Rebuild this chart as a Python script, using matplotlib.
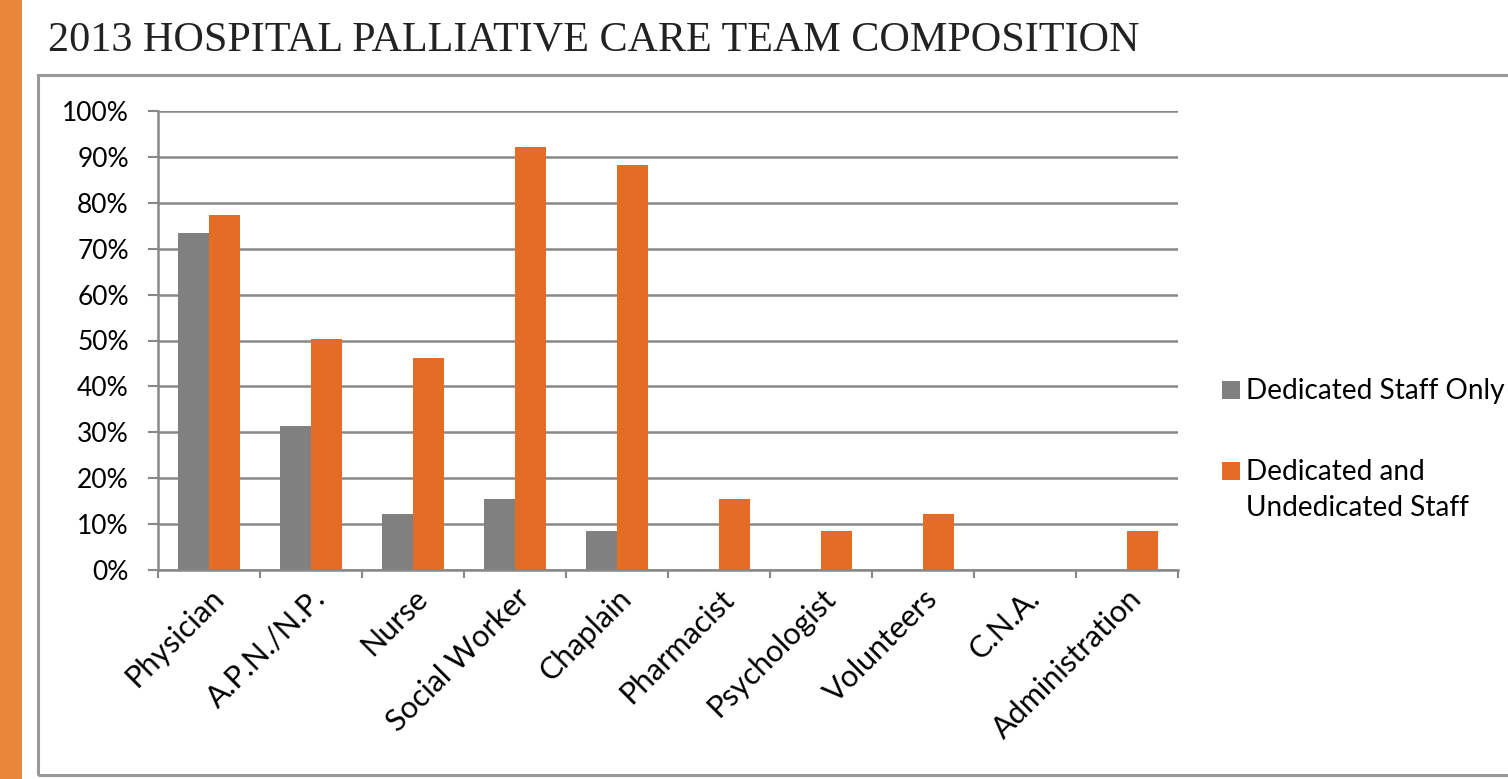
import matplotlib.pyplot as plt
import numpy as np
from matplotlib.patches import Rectangle

categories = ["Physician", "A.P.N./N.P.", "Nurse", "Social Worker", "Chaplain",
              "Pharmacist", "Psychologist", "Volunteers", "C.N.A.", "Administration"]
dedicated_only = [73.4, 31.4, 12.2, 15.5, 8.5, 0, 0, 0, 0, 0]
dedicated_and_undedicated = [77.3, 50.3, 46.2, 92.2, 88.2, 15.5, 8.5, 12.2, 0, 8.5]
series_names = ["Dedicated Staff Only", "Dedicated and\nUndedicated Staff"]
series_colors = ["#808080", "#E46C24"]
yticks = list(range(0, 101, 10))

W, H = 1508, 779
fig = plt.figure(figsize=(W / 100, H / 100), dpi=100)

# orange strip on the left and gray frame round the chart
fig.add_artist(Rectangle((0, 0), 22 / W, 1, transform=fig.transFigure,
                         color="#E8873A", lw=0))
fig.add_artist(Rectangle((38 / W, 1 - 775 / H), 1.2, (775 - 75) / H,
                         transform=fig.transFigure, fill=False,
                         ec="#999999", lw=2.2))

fig.text(48 / W, 1 - 40 / H, "2013 HOSPITAL PALLIATIVE CARE TEAM COMPOSITION",
         family="Liberation Serif", fontsize=30.3, color="#222222", va="center")

ax = fig.add_axes([158 / W, 1 - 570 / H, (1178 - 158) / W, (570 - 111) / H])
x = np.arange(len(categories))
w = 0.3
ax.bar(x - w / 2, dedicated_only, w, color=series_colors[0])
ax.bar(x + w / 2, dedicated_and_undedicated, w, color=series_colors[1])

ax.set_xlim(-0.5, len(categories) - 0.5)
ax.set_ylim(0, 100)
ax.set_yticks(yticks)
ax.set_yticklabels([f"{v}%" for v in yticks], family="Lato", fontsize=19)
ax.yaxis.grid(True, color="#888888", lw=1.8)
ax.set_axisbelow(True)

ax.set_xticks(np.arange(len(categories) + 1) - 0.5)
ax.set_xticklabels([])
ax.set_xticks(x, minor=True)
ax.set_xticklabels(categories, minor=True, rotation=45, ha="right",
                   rotation_mode="anchor", family="Lato", fontsize=22)
ax.tick_params(axis="x", which="minor", length=0, pad=10)
ax.tick_params(axis="x", which="major", length=6, width=1.5, color="#888888")
ax.tick_params(axis="y", length=7, width=1.5, color="#888888", pad=14)

for s in ["top", "right"]:
    ax.spines[s].set_visible(False)
for s in ["left", "bottom"]:
    ax.spines[s].set_color("#888888")
    ax.spines[s].set_linewidth(1.8)

# legend, drawn by hand so the square sits on the first text line
for name, col, ytop in zip(series_names, series_colors, [381, 462]):
    fig.add_artist(Rectangle((1222 / W, 1 - (ytop + 18) / H), 18 / W, 18 / H,
                             transform=fig.transFigure, color=col, lw=0))
    fig.text(1246 / W, 1 - (ytop - 3) / H, name, family="Lato", fontsize=20.2,
             va="top", linespacing=1.5)

fig.savefig("out.png", dpi=100)
